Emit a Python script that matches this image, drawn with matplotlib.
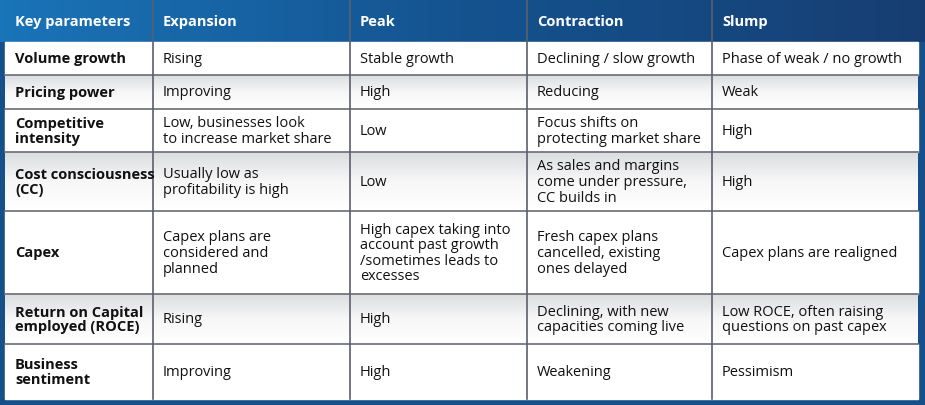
import matplotlib
matplotlib.use("Agg")
import matplotlib.pyplot as plt
from matplotlib.patches import Rectangle
import numpy as np

headers = ["Key parameters", "Expansion", "Peak", "Contraction", "Slump"]
rows = [
    ["Volume growth", "Rising", "Stable growth", "Declining / slow growth", "Phase of weak / no growth"],
    ["Pricing power", "Improving", "High", "Reducing", "Weak"],
    ["Competitive\nintensity", "Low, businesses look\nto increase market share", "Low",
     "Focus shifts on\nprotecting market share", "High"],
    ["Cost consciousness\n(CC)", "Usually low as\nprofitability is high", "Low",
     "As sales and margins\ncome under pressure,\nCC builds in", "High"],
    ["Capex", "Capex plans are\nconsidered and\nplanned",
     "High capex taking into\naccount past growth\n/sometimes leads to\nexcesses",
     "Fresh capex plans\ncancelled, existing\nones delayed", "Capex plans are realigned"],
    ["Return on Capital\nemployed (ROCE)", "Rising", "High",
     "Declining, with new\ncapacities coming live", "Low ROCE, often raising\nquestions on past capex"],
    ["Business\nsentiment", "Improving", "High", "Weakening", "Pessimism"],
]

W, H = 925, 406
row_edges = [43, 76, 110, 153, 212, 295, 345, 400]
col_edges = [5, 153, 350, 527, 712, 918]

fig = plt.figure(figsize=(W / 100, H / 100), dpi=100)
ax = fig.add_axes([0, 0, 1, 1])
ax.set_xlim(0, W)
ax.set_ylim(H, 0)
ax.axis("off")
font = "Open Sans"

# blue frame / background
ax.add_patch(Rectangle((0, 0), W, H, color="#16508a", zorder=0))
# header gradient
grad = np.linspace(0, 1, 256).reshape(1, -1)
from matplotlib.colors import LinearSegmentedColormap
cmap = LinearSegmentedColormap.from_list("hdr", ["#1a74b8", "#14538f", "#173e73"])
ax.imshow(grad, extent=[0, W, 43, 0], cmap=cmap, aspect="auto", zorder=1)

# body rows
gcmap = LinearSegmentedColormap.from_list("row", ["#dcdde0", "#f7f7f8", "#ffffff"])
vgrad = np.linspace(0, 1, 64).reshape(-1, 1)
for i in range(len(rows)):
    y0, y1 = row_edges[i], row_edges[i + 1]
    if i % 2 == 1:
        ax.imshow(vgrad, extent=[col_edges[0], col_edges[-1], y1, y0], cmap=gcmap,
                  aspect="auto", zorder=2)
    else:
        ax.add_patch(Rectangle((col_edges[0], y0), col_edges[-1] - col_edges[0], y1 - y0,
                               color="white", zorder=2))

# grid lines
for y in row_edges[1:-1]:
    ax.plot([col_edges[0], col_edges[-1]], [y, y], color="#6b6b75", lw=1.2, zorder=3)
for x in col_edges[1:-1]:
    ax.plot([x, x], [0, row_edges[-1]], color="#5a5f6e", lw=1.2, zorder=3)

# header text
for j, h in enumerate(headers):
    ax.text(col_edges[j] + 10, 22, h, color="white", fontsize=10.5, fontweight="bold",
            family=font, va="center", ha="left", zorder=4)

# body text
for i, r in enumerate(rows):
    yc = (row_edges[i] + row_edges[i + 1]) / 2
    for j, t in enumerate(r):
        ax.text(col_edges[j] + 10, yc, t, color="#111111", fontsize=10.5,
                fontweight="bold" if j == 0 else "normal", family=font,
                va="center", ha="left", linespacing=1.05, zorder=4)

fig.savefig("out.png", dpi=100)
